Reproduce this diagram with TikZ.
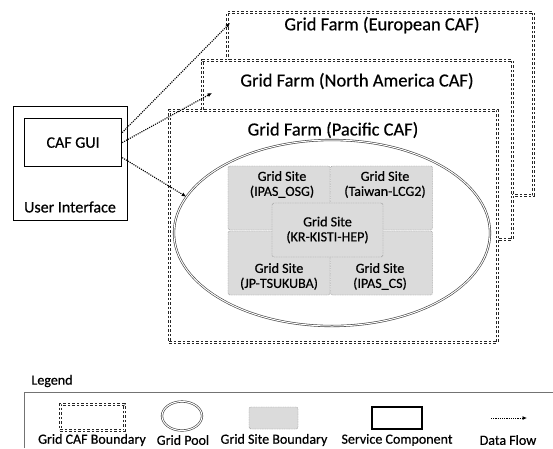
\documentclass[tikz,border=0pt]{standalone}
\usepackage{fontspec}
\setmainfont{Carlito}[FakeBold=0.5]
\usetikzlibrary{shapes}
\usetikzlibrary{arrows.meta}

\begin{document}
\begin{tikzpicture}[x=1pt, y=-1pt,
  farm/.style={draw=black!85, double=white, double distance=1.2pt, line width=0.65pt,
    dash pattern=on 2.6pt off 1.9pt, fill=white, anchor=north west, inner sep=0pt},
  pool/.style={draw=black!75, double=white, double distance=1pt, line width=0.6pt,
    ellipse, inner sep=0pt},
  site/.style={draw=black!45, dash pattern=on 1pt off 0.7pt, line width=0.4pt,
    fill=black!14, rounded corners=2pt, inner sep=0pt},
  comp/.style={draw, line width=1.2pt, inner sep=0pt},
  flow/.style={dash pattern=on 1.1pt off 1.1pt, line width=1.1pt,
    -{Latex[length=4.5pt,width=4pt]}},
  farmtxt/.style={font=\fontsize{18.5}{20}\selectfont},
  uitxt/.style={font=\fontsize{16}{18}\selectfont},
  txt/.style={font=\fontsize{14}{15}\selectfont, align=center},
]
  \useasboundingbox (0,0) rectangle (553,448);

  % grid farms
  \node[farm, minimum width=306pt, minimum height=183pt] (eu) at (227,12) {};
  \node[farmtxt] (eutitle) at (382,25) {Grid Farm (European CAF)};
  \node[farm, minimum width=310pt, minimum height=179pt] (na) at (202,60) {};
  \node[farmtxt] (natitle) at (357,81) {Grid Farm (North America CAF)};
  \node[farm, minimum width=328pt, minimum height=232pt] (pac) at (169,110) {};
  \node[farmtxt] (pactitle) at (333,130) {Grid Farm (Pacific CAF)};

  % grid pool and sites
  \node[pool, minimum width=316pt, minimum height=186pt] (pool) at (332,233) {};
  \node[site, minimum width=102pt, minimum height=64pt] (osg) at (279,198) {};
  \node[site, minimum width=102pt, minimum height=64pt] (twn) at (381.5,198) {};
  \node[site, minimum width=102pt, minimum height=64pt] (jp) at (279,263) {};
  \node[site, minimum width=102pt, minimum height=64pt] (cs) at (381.5,263) {};
  \node[txt] (osgtxt) at (282,184.5) {Grid Site\\(IPAS\_OSG)};
  \node[txt] (twntxt) at (385,184.5) {Grid Site\\(Taiwan-LCG2)};
  \node[txt] (jptxt) at (279,276.5) {Grid Site\\(JP-TSUKUBA)};
  \node[txt] (cstxt) at (380,276.5) {Grid Site\\(IPAS\_CS)};
  \node[site, txt, minimum width=111pt, minimum height=54pt] (kr) at (327.5,230) {Grid Site\\(KR-KISTI-HEP)};

  % user interface
  \node[comp, minimum width=114pt, minimum height=114pt, anchor=north west] (ui) at (13,106) {};
  \node[comp, uitxt, minimum width=97pt, minimum height=48pt, anchor=north west] (gui) at (24,118) {CAF GUI};
  \node[uitxt] (uilabel) at (70,207) {User Interface};

  \coordinate (eutip) at (230,23);
  \coordinate (natip) at (212,93);
  \path[flow] ([yshift=10pt]gui.east) edge (eutip);
  \path[flow] (gui.east) edge (natip);
  \path[flow] ([yshift=-15pt]gui.east) edge (pool.166);

  % legend
  \node[txt] (legtitle) at (52,381) {Legend};
  \draw[black!55, line width=0.6pt] (24,448) -- (24,392) -- (553,392);
  \node[farm, fill=none, minimum width=64pt, minimum height=26pt] (lfarm) at (60,404) {};
  \node[txt] (lfarmtxt) at (92,440) {Grid CAF Boundary};
  \node[pool, minimum width=40pt, minimum height=29pt] (lpool) at (182,416) {};
  \node[txt] (lpooltxt) at (183,440) {Grid Pool};
  \node[site, minimum width=49pt, minimum height=22pt] (lsite) at (273.5,418) {};
  \node[txt] (lsitetxt) at (274,440) {Grid Site Boundary};
  \node[comp, minimum width=50pt, minimum height=22pt] (lcomp) at (397,418) {};
  \node[txt] (lcomptxt) at (397,440) {Service Component};
  \coordinate (lflowa) at (491,418);
  \coordinate (lflowb) at (527,418);
  \path[flow, line width=0.8pt] (lflowa) edge (lflowb);
  \node[txt] (lflowtxt) at (508,440) {Data Flow};
\end{tikzpicture}
\end{document}
